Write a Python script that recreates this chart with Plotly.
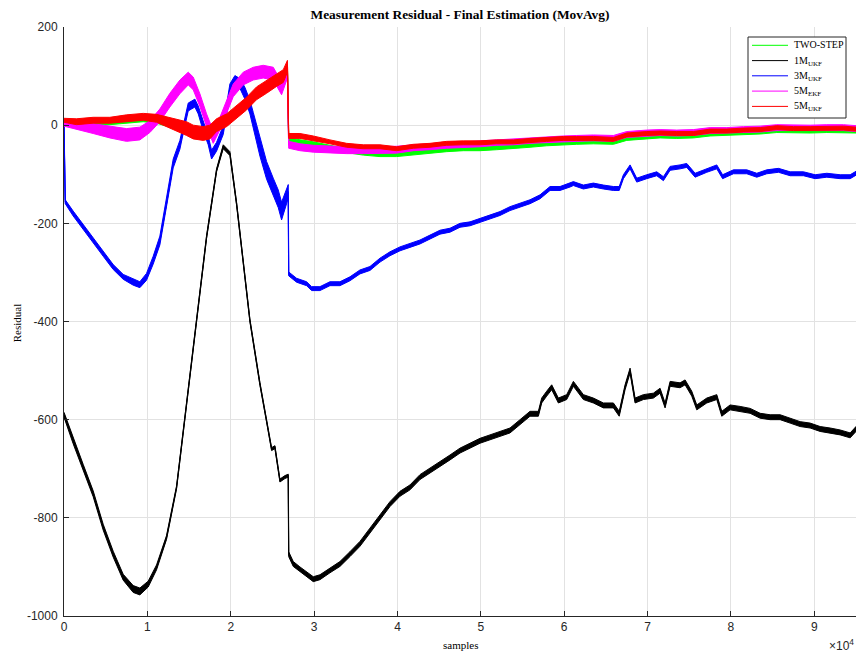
import plotly.graph_objects as go

# ---- residual traces: sample index, band centre and half-spread of the noise ----
# 1M_UKF (black)
m1_x = [0, 1100, 2300, 3500, 4700, 5900, 7100, 8300, 9100, 10100,
        11100, 12300, 13500, 14700, 15900, 17100, 18300, 19100, 19500, 19900,
        20700, 21500, 22300, 23500, 24300, 24900, 25300, 25900, 26500, 26900,
        26950, 27500, 28300, 29100, 29900, 30700, 31900, 33100, 34300, 35500,
        36700, 37900, 39100, 40300, 41500, 42700, 43900, 45100, 46300, 47500,
        48700, 49900, 51100, 52300, 53500, 54700, 55900, 56900, 57300, 57900,
        58500, 59300, 60300, 61100, 62300, 63500, 64700, 65900, 66600, 67300,
        67900, 68500, 69500, 70700, 71500, 72100, 72700, 73900, 74500, 75300,
        75900, 77100, 78300, 78900, 79900, 81100, 82300, 83500, 84700, 85900,
        87100, 88300, 89500, 90700, 91900, 93100, 94300, 95000]
m1_y = [-590, -643, -697, -751, -819, -874, -921, -945, -950, -935,
        -901, -840, -738, -568, -398, -228, -92, -44, -51, -58,
        -160, -275, -398, -527, -602, -660, -656, -724, -717, -714,
        -874, -894, -905, -915, -925, -921, -907, -894, -874, -853,
        -826, -799, -772, -751, -738, -717, -704, -690, -677, -663,
        -653, -643, -636, -629, -622, -605, -588, -588, -561, -547,
        -534, -561, -554, -527, -554, -561, -571, -571, -588, -534,
        -500, -561, -554, -551, -541, -571, -527, -530, -524, -547,
        -575, -561, -554, -588, -575, -578, -582, -592, -595, -595,
        -602, -609, -612, -619, -622, -626, -632, -619]
m1_s = [5, 6, 6, 6, 6, 6, 6, 7, 7, 6,
        5, 4, 3, 3, 3, 3, 3, 4, 4, 4,
        3, 3, 3, 3, 3, 3, 3, 3, 3, 3,
        5, 5, 5, 5, 5, 5, 5, 5, 5, 5,
        5, 5, 5, 5, 5, 5, 5, 5, 5, 5,
        5, 5, 5, 5, 5, 5, 5, 5, 5, 5,
        5, 5, 5, 5, 5, 5, 5, 5, 5, 5,
        5, 5, 5, 5, 5, 5, 5, 5, 5, 5,
        5, 5, 5, 5, 5, 5, 5, 5, 5, 5,
        5, 5, 5, 5, 5, 5, 5, 5]

# 3M_UKF (blue)
m3_x = [0, 150, 1100, 2300, 3500, 4700, 5900, 7100, 8300, 9100,
        9900, 10700, 11500, 12300, 13100, 13900, 14400, 14900, 15300, 15700,
        16100, 16700, 17300, 17700, 18300, 19100, 19500, 19900, 20500, 21100,
        21700, 22300, 22700, 23500, 24300, 25100, 25700, 26100, 26500, 26900,
        26950, 27900, 29100, 29700, 30700, 31900, 33100, 34300, 35500, 36700,
        37900, 39100, 40300, 41500, 42700, 43900, 45100, 46300, 47500, 48700,
        49900, 51100, 52300, 53500, 54700, 55900, 57100, 58300, 59500, 60700,
        61100, 62300, 63500, 64700, 65900, 66600, 67100, 67900, 68700, 69900,
        71100, 71900, 72700, 73900, 74700, 75700, 77100, 78300, 79000, 80300,
        81900, 83100, 84300, 85700, 87100, 88700, 90100, 91500, 93100, 94300,
        95000]
m3_y = [0, -156, -180, -207, -235, -262, -289, -309, -320, -325,
        -309, -275, -235, -160, -78, -40, 0, 37, 41, 45,
        31, -3, -31, -60, -44, -10, 30, 75, 92, 85,
        65, 37, 10, -45, -92, -126, -150, -175, -155, -135,
        -303, -316, -323, -333, -333, -323, -323, -313, -299, -292,
        -275, -262, -252, -245, -238, -228, -218, -214, -204, -201,
        -194, -187, -180, -170, -163, -156, -146, -129, -129, -122,
        -119, -126, -122, -126, -129, -129, -105, -85, -112, -105,
        -99, -109, -88, -85, -82, -102, -92, -85, -105, -95,
        -95, -102, -95, -92, -99, -99, -105, -102, -105, -105,
        -98]
m3_s = [0, 4, 5, 5, 5, 5, 5, 5, 6, 6,
        7, 8, 9, 9, 9, 9, 9, 8, 8, 8,
        8, 9, 9, 9, 9, 9, 9, 9, 9, 10,
        12, 14, 16, 18, 18, 18, 18, 18, 16, 14,
        4, 4, 4, 4, 4, 4, 4, 4, 4, 4,
        4, 4, 4, 4, 4, 4, 4, 4, 4, 4,
        4, 4, 4, 4, 4, 4, 4, 4, 4, 4,
        4, 4, 4, 4, 4, 4, 4, 4, 4, 4,
        4, 4, 4, 4, 4, 4, 4, 4, 4, 4,
        4, 4, 4, 4, 4, 4, 4, 4, 4, 4,
        4]

# 5M_UKF (red) and TWO-STEP (green) share sample positions
ukf5_x = [0, 1500, 3500, 5500, 7500, 9500, 11100, 12300, 13500, 14700,
          15500, 16700, 17500, 18300, 19500, 20700, 21900, 23100, 24300, 25500,
          26300, 26800, 26950, 28300, 29900, 31900, 33900, 35900, 37900, 39900,
          41900, 43900, 45900, 47900, 49900, 51900, 53900, 55900, 57900, 59900,
          61500, 63500, 65900, 67500, 69900, 71500, 73500, 75500, 77500, 79500,
          81500, 83500, 85500, 87500, 89500, 91500, 93500, 95000]
ukf5_y = [10, 7, 10, 10, 14, 17, 14, 7, 0, -7,
          -14, -17, -14, 0, 10, 27, 44, 65, 78, 92,
          100, 120, -22, -22, -27, -34, -41, -44, -44, -48,
          -43, -41, -37, -36, -36, -34, -34, -31, -29, -27,
          -27, -27, -29, -20, -17, -16, -17, -17, -12, -12,
          -10, -9, -5, -7, -7, -6, -6, -8]
ukf5_s = [4, 6, 6, 6, 7, 7, 8, 10, 12, 14,
          14, 14, 14, 13, 13, 13, 13, 13, 13, 13,
          13, 12, 5, 5, 5, 4, 4, 4, 4, 4,
          4, 4, 4, 4, 4, 4, 4, 4, 4, 4,
          4, 4, 4, 4, 4, 4, 4, 4, 4, 4,
          4, 4, 4, 4, 4, 4, 4, 4]
two_y = [5, 2, 4, 5, 8, 11, 8, 2, -5, -10,
         -15, -18, -15, -4, 6, 22, 40, 60, 73, 87,
         93, 112, -30, -33, -38, -45, -52, -57, -60, -60,
         -56, -53, -50, -48, -48, -46, -44, -41, -38, -36,
         -35, -34, -35, -27, -24, -22, -23, -22, -18, -17,
         -15, -14, -11, -12, -12, -11, -11, -12]
two_s = [4, 4, 4, 4, 4, 4, 4, 4, 4, 4,
         4, 4, 4, 4, 4, 4, 4, 4, 4, 4,
         4, 4, 4, 4, 4, 4, 4, 4, 4, 4,
         4, 4, 4, 4, 4, 4, 4, 4, 4, 4,
         4, 4, 4, 4, 4, 4, 4, 4, 4, 4,
         4, 4, 4, 4, 4, 4, 4, 4]

# 5M_EKF (magenta)
ekf5_x = [0, 1500, 3500, 5500, 7500, 9100, 10300, 11500, 12700, 13900,
          14900, 15500, 16300, 17100, 17900, 18700, 19500, 20300, 21500, 22700,
          23900, 25100, 26100, 26800, 26950, 28300, 29900, 31900, 33900, 35900,
          37900, 39900, 41900, 43900, 45900, 47900, 49900, 51900, 53900, 55900,
          57900, 59900, 61500, 63500, 65900, 67500, 69900, 71500, 73500, 75500,
          77500, 79500, 81500, 83500, 85500, 87500, 89500, 91500, 93500, 95000]
ekf5_y = [3, 0, -7, -14, -20, -17, -3, 20, 51, 78,
          95, 85, 51, 10, -24, 3, 37, 71, 95, 105,
          109, 105, 75, 108, -40, -45, -48, -50, -51, -51,
          -51, -50, -46, -44, -41, -39, -38, -35, -34, -31,
          -29, -28, -27, -26, -27, -19, -16, -15, -16, -15,
          -11, -11, -9, -8, -5, -6, -6, -5, -5, -7]
ekf5_s = [5, 8, 10, 12, 13, 13, 12, 13, 14, 14,
          13, 13, 13, 13, 13, 13, 13, 13, 13, 13,
          13, 13, 13, 12, 7, 7, 7, 7, 7, 7,
          7, 7, 6, 6, 6, 6, 6, 6, 6, 6,
          6, 6, 6, 6, 6, 6, 6, 6, 6, 6,
          6, 6, 6, 6, 6, 6, 6, 6, 6, 6]

series = [
    ("TWO-STEP", ukf5_x, two_y, two_s, "#00ff00"),
    ("1M<sub>UKF</sub>", m1_x, m1_y, m1_s, "#000000"),
    ("3M<sub>UKF</sub>", m3_x, m3_y, m3_s, "#0000ff"),
    ("5M<sub>EKF</sub>", ekf5_x, ekf5_y, ekf5_s, "#ff00ff"),
    ("5M<sub>UKF</sub>", ukf5_x, ukf5_y, ukf5_s, "#ff0000"),
]

x_ticks = [0, 10000, 20000, 30000, 40000, 50000, 60000, 70000, 80000, 90000]
x_text = ["0", "1", "2", "3", "4", "5", "6", "7", "8", "9"]
y_ticks = [-1000, -800, -600, -400, -200, 0, 200]
y_text = ["-1000", "-800", "-600", "-400", "-200", "0", "200"]

W, H = 858, 656
ML, MR, MT, MB = 64, 2, 27, 40
PW, PH = W - ML - MR, H - MT - MB


def px_to_paper(px, py):
    return (px - ML) / PW, (H - MB - py) / PH


fig = go.Figure()

# noisy residual drawn as a filled band around its running level
for name, xs, ys, ss, col in series:
    upper = [y + s for y, s in zip(ys, ss)]
    lower = [y - s for y, s in zip(ys, ss)]
    fig.add_trace(go.Scatter(
        x=xs + xs[::-1], y=upper + lower[::-1],
        mode="lines", fill="toself", fillcolor=col,
        line=dict(color=col, width=1), showlegend=False, hoverinfo="skip",
        name=name))
    fig.add_trace(go.Scatter(
        x=xs, y=ys, mode="lines", line=dict(color=col, width=1.2),
        showlegend=False, hoverinfo="skip", name=name))

# compact boxed legend in the upper-right corner
shapes = []
annotations = []
bx0, by0 = px_to_paper(748, 118)
bx1, by1 = px_to_paper(846, 37)
shapes.append(dict(type="rect", xref="paper", yref="paper",
                   x0=bx0, y0=by0, x1=bx1, y1=by1,
                   line=dict(color="#262626", width=1), fillcolor="white", layer="above"))
row_y = [45.3, 60.6, 75.8, 91.1, 106.4]
for (name, _, _, _, col), ry in zip(series, row_y):
    lx0, ly = px_to_paper(752, ry)
    lx1, _ = px_to_paper(788, ry)
    shapes.append(dict(type="line", xref="paper", yref="paper",
                       x0=lx0, x1=lx1, y0=ly, y1=ly,
                       line=dict(color=col, width=1), layer="above"))
    tx, ty = px_to_paper(792, ry + (0.5 if "<sub>" in name else -0.5))
    annotations.append(dict(text=name, xref="paper", yref="paper", x=tx, y=ty,
                            xanchor="left", yanchor="middle", showarrow=False,
                            font=dict(family="Liberation Serif", size=10, color="#000000")))

axis_common = dict(
    showline=True, linecolor="#262626", linewidth=1,
    ticks="inside", ticklen=5, tickcolor="#262626", tickwidth=1,
    showgrid=True, gridcolor="#e2e2e2", gridwidth=1, zeroline=False,
    tickfont=dict(family="Liberation Sans", size=12, color="#262626"),
)

annotations += [
    dict(text="samples", xref="paper", yref="paper", x=0.5, y=-0.049,
         xanchor="center", yanchor="middle", showarrow=False,
         font=dict(family="Liberation Serif", size=11, color="#000000")),
    dict(text="Residual", xref="paper", yref="paper", x=-0.0593, y=0.497,
         xanchor="center", yanchor="middle", textangle=-90, showarrow=False,
         font=dict(family="Liberation Serif", size=11, color="#000000")),
    dict(text="\u00d710<sup>4</sup>", xref="paper", yref="paper", x=1.0, y=-0.05,
         xanchor="right", yanchor="middle", showarrow=False,
         font=dict(family="Liberation Sans", size=12, color="#262626")),
]

fig.update_layout(
    width=W, height=H,
    margin=dict(l=ML, r=MR, t=MT, b=MB),
    paper_bgcolor="white", plot_bgcolor="white",
    title=dict(text="<b>Measurement Residual - Final Estimation (MovAvg)</b>",
               x=0.5, xref="paper", xanchor="center",
               y=1 - 14 / H, yref="container", yanchor="middle",
               font=dict(family="Liberation Serif", size=13.4, color="#000000")),
    xaxis=dict(range=[0, 95000], tickvals=x_ticks, ticktext=x_text, **axis_common),
    yaxis=dict(range=[-1000, 200], tickvals=y_ticks, ticktext=y_text,
               ticklabelstandoff=3, **axis_common),
    showlegend=False,
    shapes=shapes,
    annotations=annotations,
)

fig.write_html("out.html")
